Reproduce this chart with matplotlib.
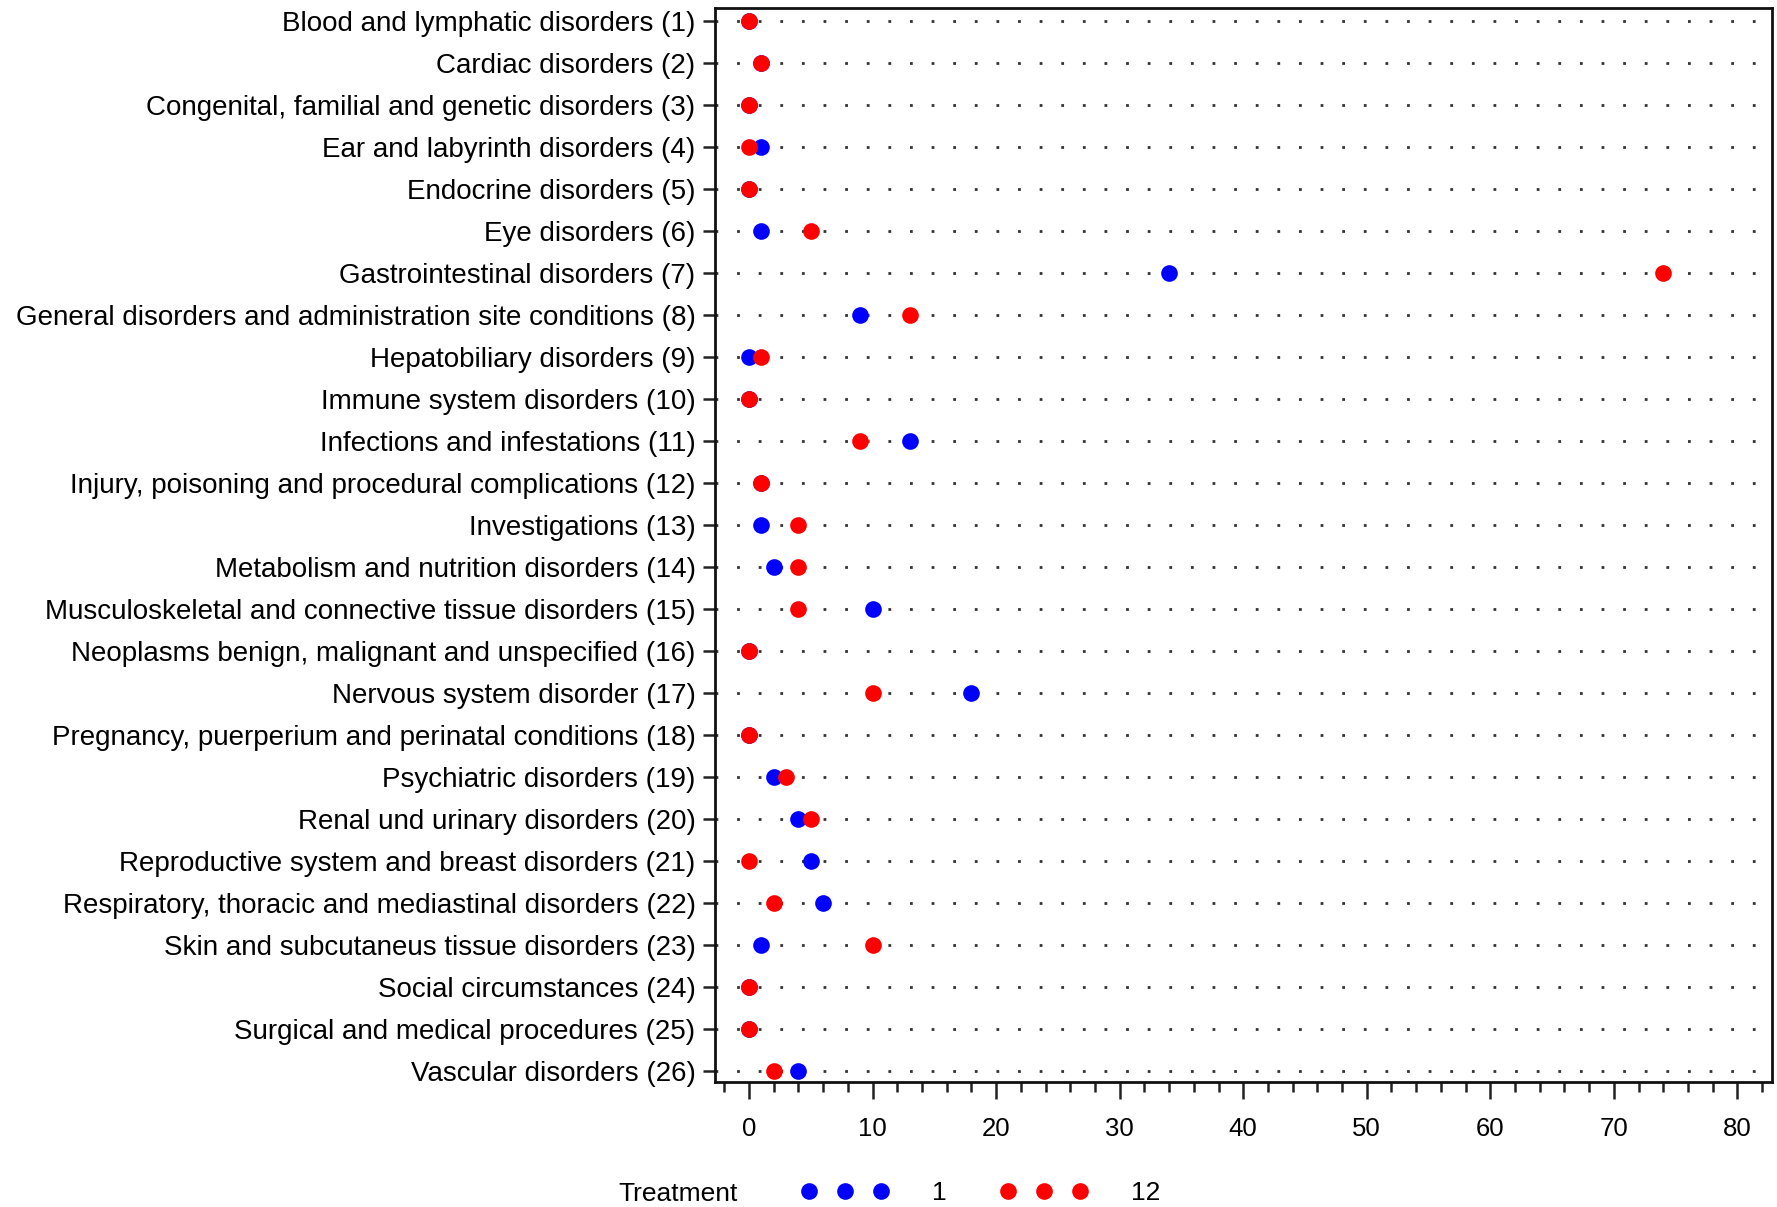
import matplotlib
matplotlib.use("Agg")
import matplotlib.pyplot as plt
from matplotlib.ticker import MultipleLocator

categories = [
    "Blood and lymphatic disorders (1)",
    "Cardiac disorders (2)",
    "Congenital, familial and genetic disorders (3)",
    "Ear and labyrinth disorders (4)",
    "Endocrine disorders (5)",
    "Eye disorders (6)",
    "Gastrointestinal disorders (7)",
    "General disorders and administration site conditions (8)",
    "Hepatobiliary disorders (9)",
    "Immune system disorders (10)",
    "Infections and infestations (11)",
    "Injury, poisoning and procedural complications (12)",
    "Investigations (13)",
    "Metabolism and nutrition disorders (14)",
    "Musculoskeletal and connective tissue disorders (15)",
    "Neoplasms benign, malignant and unspecified (16)",
    "Nervous system disorder (17)",
    "Pregnancy, puerperium and perinatal conditions (18)",
    "Psychiatric disorders (19)",
    "Renal und urinary disorders (20)",
    "Reproductive system and breast disorders (21)",
    "Respiratory, thoracic and mediastinal disorders (22)",
    "Skin and subcutaneus tissue disorders (23)",
    "Social circumstances (24)",
    "Surgical and medical procedures (25)",
    "Vascular disorders (26)",
]
treatment_1 = [0, 1, 0, 1, 0, 1, 34, 9, 0, 0, 13, 1, 1, 2, 10, 0, 18, 0, 2, 4, 5, 6, 1, 0, 0, 4]
treatment_12 = [0, 1, 0, 0, 0, 5, 74, 13, 1, 0, 9, 1, 4, 4, 4, 0, 10, 0, 3, 5, 0, 2, 10, 0, 0, 2]
series_labels = ["1", "12"]
x_ticks = [0, 10, 20, 30, 40, 50, 60, 70, 80]

plt.rcParams['font.family'] = ['Liberation Sans', 'DejaVu Sans']

fig = plt.figure(figsize=(17.77, 12.07), dpi=100)
ax = fig.add_axes([0.4024, 0.1036, 0.5948, 0.8898])

ypos = list(range(1, len(categories) + 1))
for y in ypos:
    ax.axhline(y, color='#333333', lw=2.0, linestyle=(0, (1, 6.78)), zorder=1)

h1, = ax.plot(treatment_1, ypos, 'o', color='#0000ff', ms=12, mec='none', ls='none', zorder=3, label=series_labels[0])
h2, = ax.plot(treatment_12, ypos, 'o', color='#ff0000', ms=12, mec='none', ls='none', zorder=4, label=series_labels[1])

ax.set_xlim(-2.75, 82.8)
ax.set_ylim(26.26, 0.68)
ax.set_yticks(ypos)
ax.set_yticklabels(categories, fontsize=20)
ax.set_xticks(x_ticks)
ax.set_xticklabels([str(t) for t in x_ticks], fontsize=18.5)
ax.xaxis.set_minor_locator(MultipleLocator(2))
ax.tick_params(axis='y', length=9, width=1.8, pad=5, color='#222222')
ax.tick_params(axis='x', which='major', length=12.5, width=1.8, pad=13, color='#222222')
ax.tick_params(axis='x', which='minor', length=7, width=1.8, color='#222222')
for s in ax.spines.values():
    s.set_linewidth(2.0)
    s.set_color('#111111')

fig.text(618 / 1777, 1 - 1201 / 1207, "Treatment", fontsize=19, ha='left', va='baseline')
fig.legend(handles=[h1, h2], loc='center left', bbox_to_anchor=(801 / 1777, 1 - 1193 / 1207),
           ncol=2, numpoints=3, frameon=False, fontsize=19, handlelength=3.35,
           handletextpad=1.63, columnspacing=2.0, borderaxespad=0, borderpad=0)

fig.savefig("out.png", dpi=100)
